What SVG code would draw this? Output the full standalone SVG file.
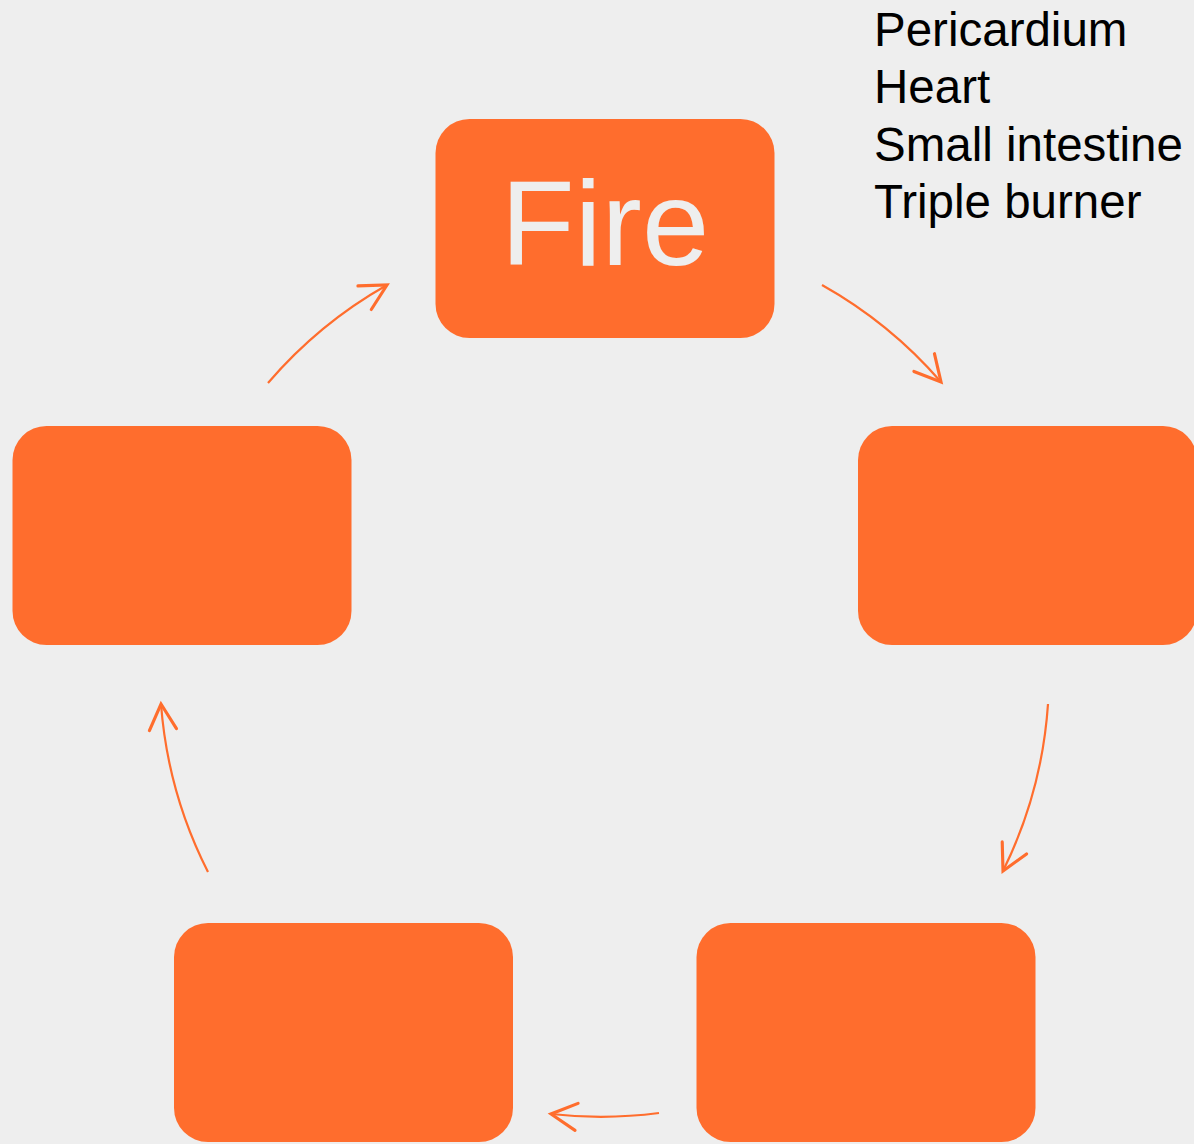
<svg xmlns="http://www.w3.org/2000/svg" width="1194" height="1144" viewBox="0 0 1194 1144">
  <defs>
    <style>
      .node { fill: #ff6d2d; }
      .link { fill: none; stroke: #ff6d2d; stroke-width: 2.2; }
      .title { font-family: "Liberation Sans", Arial, sans-serif; font-size: 121px; fill: #eeeeee; text-anchor: middle; }
      .note { font-family: "Liberation Sans", Arial, sans-serif; font-size: 47.5px; fill: #000000; }
    </style>
    <marker id="openArrow" markerUnits="userSpaceOnUse" markerWidth="40" markerHeight="40" viewBox="-22 -14 26 28" refX="0" refY="0" orient="auto">
      <path d="M -18 -9.5 L 0 0 L -18 9.5" fill="none" stroke="#ff6d2d" stroke-width="2.2" stroke-linecap="round" stroke-linejoin="miter"/>
    </marker>
  </defs>

  <rect x="0" y="0" width="1194" height="1144" fill="#eeeeee"/>

  <!-- five elements cycle: nodes on a pentagon -->
  <g id="node-fire">
    <rect class="node" x="435.5" y="119" width="339" height="219" rx="34" ry="34"/>
    <text class="title" x="605" y="265">Fire</text>
  </g>
  <g id="node-right">
    <rect class="node" x="858" y="426" width="339" height="219" rx="34" ry="34"/>
  </g>
  <g id="node-bottom-right">
    <rect class="node" x="696.5" y="923" width="339" height="219" rx="34" ry="34"/>
  </g>
  <g id="node-bottom-left">
    <rect class="node" x="174" y="923" width="339" height="219" rx="34" ry="34"/>
  </g>
  <g id="node-left">
    <rect class="node" x="12.5" y="426" width="339" height="219" rx="34" ry="34"/>
  </g>

  <!-- organ list for Fire -->
  <g id="fire-organs">
    <text class="note" x="874" y="46">Pericardium</text>
    <text class="note" x="874" y="103">Heart</text>
    <text class="note" x="874" y="161">Small intestine</text>
    <text class="note" x="874" y="218">Triple burner</text>
  </g>

  <!-- clockwise arcs on a circle centred at (605,673), r=445 -->
  <g id="connectors">
    <path class="link" marker-end="url(#openArrow)" d="M 822 285 A 445 445 0 0 1 941 382"/>
    <path class="link" marker-end="url(#openArrow)" d="M 1048 704 A 445 445 0 0 1 1003 871"/>
    <path class="link" marker-end="url(#openArrow)" d="M 659 1113 A 445 445 0 0 1 551 1114"/>
    <path class="link" marker-end="url(#openArrow)" d="M 208 872 A 445 445 0 0 1 161 704"/>
    <path class="link" marker-end="url(#openArrow)" d="M 268 383 A 445 445 0 0 1 387 285"/>
  </g>
</svg>
